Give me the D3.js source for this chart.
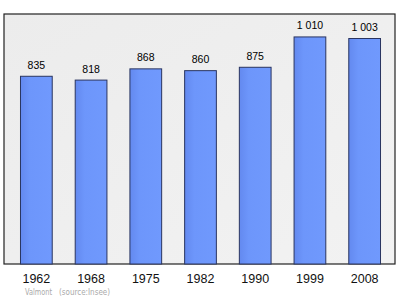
<script src="https://d3js.org/d3.v7.min.js"></script>
<style>
  body { margin: 0; background: #fff; }
</style>
<div id="vis"></div>
<script>
  var years = ['1962', '1968', '1975', '1982', '1990', '1999', '2008'];
  var population = [835, 818, 868, 860, 875, 1010, 1003];
  var valueLabels = ['835', '818', '868', '860', '875', '1 010', '1 003'];

  var width = 400, height = 299;
  var frame = { left: 4, top: 14, right: 395, bottom: 264 };

  var svg = d3.select('#vis')
    .append('svg')
    .attr('width', width)
    .attr('height', height);

  var defs = svg.append('defs');
  var bg = defs.append('linearGradient').attr('id', 'bg')
    .attr('x1', 0).attr('y1', 0).attr('x2', 1).attr('y2', 1);
  bg.append('stop').attr('offset', '0%').attr('stop-color', '#ececec');
  bg.append('stop').attr('offset', '100%').attr('stop-color', '#f2f2f2');

  var barGrad = defs.append('linearGradient').attr('id', 'bar')
    .attr('x1', 0).attr('y1', 0).attr('x2', 1).attr('y2', 0);
  barGrad.append('stop').attr('offset', '0%').attr('stop-color', '#6389ef');
  barGrad.append('stop').attr('offset', '30%').attr('stop-color', '#6d96fb');
  barGrad.append('stop').attr('offset', '100%').attr('stop-color', '#7099fd');

  svg.append('rect')
    .attr('x', frame.left)
    .attr('y', frame.top)
    .attr('width', frame.right - frame.left)
    .attr('height', frame.bottom - frame.top)
    .style('fill', 'url(#bg)')
    .style('stroke', '#222')
    .style('stroke-width', 1.2);

  var x = d3.scaleBand()
    .domain(years)
    .range([9, 392])
    .paddingInner(0.42)
    .paddingOuter(0.21);

  var y = d3.scaleLinear()
    .domain([0, 1112])
    .range([frame.bottom, frame.top]);

  svg.append('g')
    .selectAll('rect')
    .data(population)
    .enter()
    .append('rect')
    .attr('x', function(d, i) { return x(years[i]); })
    .attr('y', function(d) { return y(d); })
    .attr('width', x.bandwidth())
    .attr('height', function(d) { return frame.bottom - y(d); })
    .style('fill', 'url(#bar)')
    .style('stroke', '#2a3560')
    .style('stroke-width', 1);

  svg.append('g')
    .selectAll('text')
    .data(population)
    .enter()
    .append('text')
    .attr('x', function(d, i) { return x(years[i]) + x.bandwidth() / 2; })
    .attr('y', function(d) { return y(d) - 7.5; })
    .attr('text-anchor', 'middle')
    .style('font-family', 'Liberation Sans, Arial, sans-serif')
    .style('font-size', '10.5px')
    .style('fill', '#000')
    .text(function(d, i) { return valueLabels[i]; });

  var xAxis = svg.append('g')
    .attr('transform', 'translate(0,' + frame.bottom + ')')
    .call(d3.axisBottom(x).tickSize(0).tickPadding(10));
  xAxis.select('.domain').remove();
  xAxis.selectAll('text')
    .style('font-family', 'Liberation Sans, Arial, sans-serif')
    .style('font-size', '12.5px')
    .style('fill', '#111');

  var source = svg.append('g')
    .style('font-family', 'DejaVu Sans Condensed, DejaVu Sans, sans-serif')
    .style('font-size', '8px')
    .style('fill', '#aaa');
  source.append('text')
    .attr('x', 25).attr('y', 294.5)
    .attr('textLength', 27).attr('lengthAdjust', 'spacingAndGlyphs')
    .text('Valmont');
  source.append('text')
    .attr('x', 59).attr('y', 294.5)
    .attr('textLength', 51).attr('lengthAdjust', 'spacingAndGlyphs')
    .text('(source:Insee)');
</script>
